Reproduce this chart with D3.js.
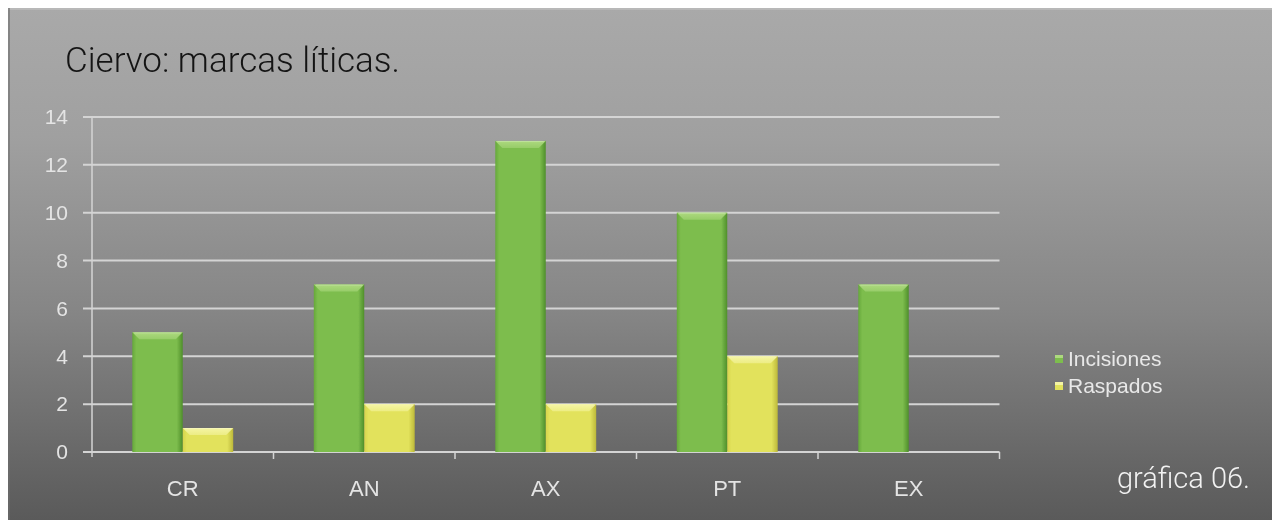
<!DOCTYPE html>
<html>
<head>
<meta charset="utf-8">
<script src="https://cdn.jsdelivr.net/npm/d3@7/dist/d3.min.js"></script>
<style>
  html, body { margin: 0; padding: 0; background: #ffffff; }
  svg { display: block; }
</style>
</head>
<body>
<svg id="chart" width="1272" height="520"></svg>
<script>
// Data
const categories = ["CR", "AN", "AX", "PT", "EX"];
const seriesNames = ["Incisiones", "Raspados"];
const incisiones = [5, 7, 13, 10, 7];
const raspados = [1, 2, 2, 4, 0];
const yTicks = [0, 2, 4, 6, 8, 10, 12, 14];
const titleText = "Ciervo: marcas líticas.";
const footText = "gráfica 06.";

const seriesValues = { "Incisiones": incisiones, "Raspados": raspados };

const W = 1272, H = 520;
const svg = d3.select("#chart");
const defs = svg.append("defs");

// Panel background gradient
const bg = defs.append("linearGradient").attr("id", "bg")
  .attr("x1", 0).attr("y1", 0).attr("x2", 0).attr("y2", 1);
bg.append("stop").attr("offset", "0%").attr("stop-color", "#a9a9a9");
bg.append("stop").attr("offset", "25%").attr("stop-color", "#a0a0a0");
bg.append("stop").attr("offset", "60%").attr("stop-color", "#858585");
bg.append("stop").attr("offset", "100%").attr("stop-color", "#5a5a5a");

// Soft rendering for the embedded plot
defs.append("filter").attr("id", "soft")
  .attr("x", "-5%").attr("y", "-5%").attr("width", "110%").attr("height", "110%")
  .append("feGaussianBlur").attr("stdDeviation", 0.6);

// Bar fills (horizontal shading)
function barGradient(id, edgeL, mid, edgeR) {
  const g = defs.append("linearGradient").attr("id", id)
    .attr("x1", 0).attr("y1", 0).attr("x2", 1).attr("y2", 0);
  g.append("stop").attr("offset", "0%").attr("stop-color", edgeL);
  g.append("stop").attr("offset", "8%").attr("stop-color", mid);
  g.append("stop").attr("offset", "88%").attr("stop-color", mid);
  g.append("stop").attr("offset", "100%").attr("stop-color", edgeR);
}
barGradient("gGreen", "#66a83a", "#7dbd4e", "#4f8f2a");
barGradient("gYellow", "#d6d44c", "#e2e25c", "#bcb83a");

// Top highlight (vertical fade)
function topGradient(id, c) {
  const g = defs.append("linearGradient").attr("id", id)
    .attr("x1", 0).attr("y1", 0).attr("x2", 0).attr("y2", 1);
  g.append("stop").attr("offset", "0%").attr("stop-color", c).attr("stop-opacity", 1);
  g.append("stop").attr("offset", "100%").attr("stop-color", c).attr("stop-opacity", 0.55);
}
topGradient("tGreen", "#add97f");
topGradient("tYellow", "#f5f5a4");

const colors = {
  "Incisiones": { fill: "url(#gGreen)", top: "url(#tGreen)", flat: "#7dbd4e", light: "#add97f" },
  "Raspados":   { fill: "url(#gYellow)", top: "url(#tYellow)", flat: "#e2e25c", light: "#f5f5a4" }
};

svg.append("rect").attr("x", 0).attr("y", 0).attr("width", W).attr("height", H).attr("fill", "#ffffff");
svg.append("rect").attr("x", 8).attr("y", 8).attr("width", W - 8).attr("height", H - 8)
  .attr("fill", "url(#bg)");
svg.append("line").attr("x1", 8).attr("x2", W).attr("y1", 9).attr("y2", 9)
  .attr("stroke", "#b8b8b8").attr("stroke-width", 2);
svg.append("line").attr("x1", 9).attr("x2", 9).attr("y1", 8).attr("y2", H)
  .attr("stroke", "#6e6e6e").attr("stroke-width", 2).attr("opacity", 0.6);

const plot = svg.append("g").attr("filter", "url(#soft)");

// Scales
const x = d3.scaleBand().domain(categories).range([92, 999.5])
  .paddingInner(0.444).paddingOuter(0.222);
const xs = d3.scaleBand().domain(seriesNames).range([0, x.bandwidth()]).padding(0);
const y = d3.scaleLinear().domain([0, 14]).range([452, 117]);

// Gridlines
plot.append("g").selectAll("line").data(yTicks).join("line")
  .attr("x1", 83).attr("x2", 999.5)
  .attr("y1", d => y(d)).attr("y2", d => y(d))
  .attr("stroke", "#d4d4d4").attr("stroke-width", 2);

// Y axis
const yAxis = plot.append("g").attr("transform", "translate(92,0)")
  .call(d3.axisLeft(y).tickValues(yTicks).tickSize(0).tickPadding(24));
yAxis.select(".domain").remove();
yAxis.selectAll("text")
  .attr("fill", "#e4e4e4")
  .style("font-family", "'Liberation Sans', Arial, sans-serif")
  .style("font-size", "21px");
plot.append("line").attr("x1", 92).attr("x2", 92).attr("y1", 117).attr("y2", 457)
  .attr("stroke", "#d4d4d4").attr("stroke-width", 1.5);

// X axis
const boundaries = d3.range(categories.length + 1).map(i => 92 + i * x.step());
plot.append("g").selectAll("line").data(boundaries.slice(1)).join("line")
  .attr("x1", d => d).attr("x2", d => d).attr("y1", 452).attr("y2", 459)
  .attr("stroke", "#d4d4d4").attr("stroke-width", 1.5);

const xAxis = plot.append("g").attr("transform", "translate(0,452)")
  .call(d3.axisBottom(x).tickSize(0).tickPadding(28));
xAxis.select(".domain").remove();
xAxis.selectAll("text")
  .attr("fill", "#e4e4e4")
  .attr("dy", "0.71em")
  .style("font-family", "'Liberation Sans', Arial, sans-serif")
  .style("font-size", "22px");

// Bars
const bevel = 7;
const barData = [];
categories.forEach((c, i) => {
  seriesNames.forEach(s => {
    barData.push({ cat: c, series: s, value: seriesValues[s][i] });
  });
});

const bars = plot.append("g").selectAll("g").data(barData.filter(d => d.value > 0)).join("g")
  .attr("transform", d => `translate(${x(d.cat) + xs(d.series)},0)`);

bars.append("rect")
  .attr("x", 0).attr("width", xs.bandwidth())
  .attr("y", d => y(d.value)).attr("height", d => y(0) - y(d.value))
  .attr("fill", d => colors[d.series].fill);

// Rounded highlight on the top face
bars.append("path")
  .attr("d", d => {
    const w = xs.bandwidth(), t = y(d.value);
    return `M0,${t} L${w},${t} L${w - bevel},${t + bevel} L${bevel},${t + bevel} Z`;
  })
  .attr("fill", d => colors[d.series].top);
bars.append("line")
  .attr("x1", 2).attr("x2", xs.bandwidth() - 2)
  .attr("y1", d => y(d.value) + 0.5).attr("y2", d => y(d.value) + 0.5)
  .attr("stroke", "#ffffff").attr("stroke-opacity", 0.25);

// Legend
const legend = plot.append("g").attr("transform", "translate(1055,0)");
const legY = { "Incisiones": 359, "Raspados": 386 };
const lg = legend.selectAll("g").data(seriesNames).join("g")
  .attr("transform", d => `translate(0,${legY[d]})`);
lg.append("rect").attr("x", 0).attr("y", -4).attr("width", 8).attr("height", 8)
  .attr("fill", d => colors[d].flat);
lg.append("rect").attr("x", 0).attr("y", -4).attr("width", 8).attr("height", 3)
  .attr("fill", d => colors[d].light);
lg.append("text").attr("x", 13).attr("y", 0).attr("dy", "0.35em")
  .attr("fill", "#e8e8e8")
  .style("font-family", "'Liberation Sans', Arial, sans-serif")
  .style("font-size", "21px")
  .text(d => d);

// Title and footnote
svg.append("text").attr("x", 65).attr("y", 72)
  .attr("fill", "#141414")
  .style("font-family", "Roboto, 'Liberation Sans', sans-serif")
  .style("font-weight", 300)
  .style("font-size", "35px")
  .text(titleText);

svg.append("text").attr("x", 1250).attr("y", 488).attr("text-anchor", "end")
  .attr("fill", "#f2f2f2")
  .style("font-family", "Roboto, 'Liberation Sans', sans-serif")
  .style("font-weight", 300)
  .style("font-size", "29px")
  .text(footText);
</script>
</body>
</html>
